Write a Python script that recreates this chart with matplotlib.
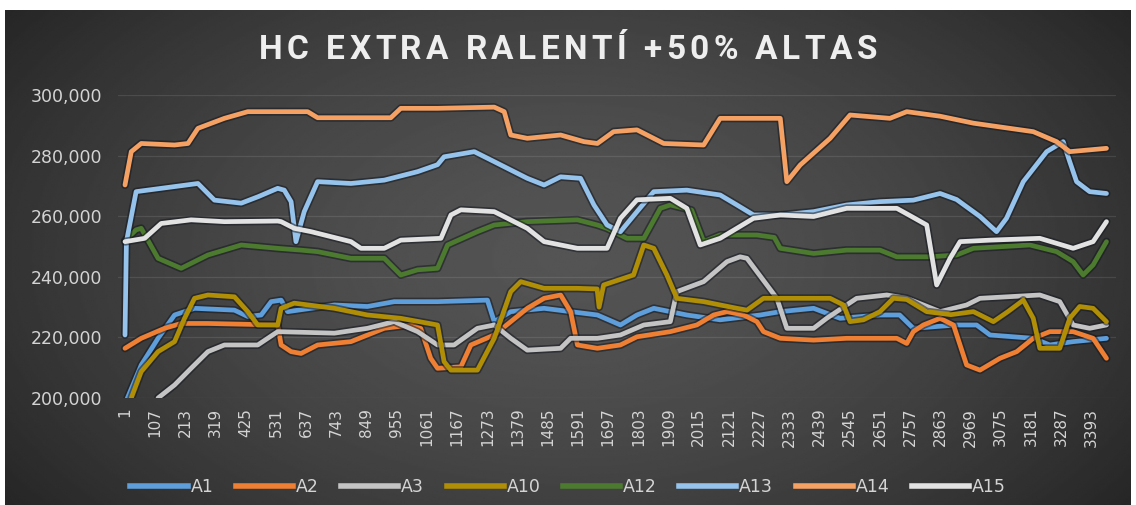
import numpy as np
import matplotlib
matplotlib.use("Agg")
import matplotlib.pyplot as plt
import matplotlib.patheffects as pe
from matplotlib.lines import Line2D
from matplotlib.ticker import FuncFormatter
from matplotlib.font_manager import FontProperties

# ---- data: (sample index, value in thousands) ----
A1 = [(5, 199), (58, 210.9), (117, 219.7), (175, 227.4), (245, 229.6), (385, 229), (432, 226.9),
      (479, 227.4), (514, 231.8), (549, 232.3), (572, 228.5), (736, 230.7), (852, 230.2), (946, 231.8),
      (1098, 231.8), (1273, 232.3), (1297, 225.2), (1355, 228.5), (1472, 229.6), (1565, 228.5),
      (1659, 227.4), (1740, 224.1), (1798, 227.4), (1857, 229.6), (1973, 227.4), (2090, 225.8),
      (2231, 227.4), (2301, 228.5), (2418, 229.6), (2511, 226.3), (2651, 227.4), (2720, 227.4),
      (2768, 223), (2920, 224.1), (2990, 224.1), (3037, 220.8), (3189, 219.7), (3247, 217.5),
      (3329, 218.6), (3446, 219.7)]

A2 = [(1, 216.4), (58, 219.7), (140, 223), (198, 224.6), (292, 224.6), (537, 224.1), (549, 217.5),
      (584, 215.3), (619, 214.7), (677, 217.5), (794, 218.6), (911, 223), (1004, 224.1), (1039, 223),
      (1074, 213.1), (1098, 209.8), (1180, 210.3), (1215, 217.5), (1297, 220.8), (1355, 225.2),
      (1413, 229.6), (1472, 232.9), (1530, 234), (1565, 228.5), (1589, 217.5), (1659, 216.4),
      (1740, 217.5), (1798, 220.2), (1915, 221.9), (2008, 224.1), (2067, 227.4), (2114, 228.5),
      (2172, 227.4), (2219, 225.2), (2242, 221.9), (2301, 219.7), (2418, 219.1), (2534, 219.7),
      (2710, 219.7), (2745, 218), (2768, 221.9), (2803, 224.1), (2862, 226.3), (2909, 224.1),
      (2955, 210.9), (3002, 209.2), (3072, 213.1), (3131, 215.3), (3189, 219.7), (3247, 221.9),
      (3329, 221.9), (3399, 219.7), (3446, 213.1)]

A3 = [(117, 200), (175, 204.3), (233, 209.8), (292, 215.3), (350, 217.5), (467, 217.5), (502, 219.7),
      (537, 221.9), (736, 221.4), (852, 223), (946, 225.2), (1028, 221.9), (1098, 217.5), (1156, 217.5),
      (1238, 223), (1297, 224.1), (1355, 219.7), (1413, 215.8), (1530, 216.4), (1565, 219.7),
      (1659, 219.7), (1740, 220.8), (1822, 224.1), (1915, 225.2), (1938, 235.1), (2032, 238.4),
      (2114, 245), (2160, 246.6), (2184, 246.1), (2254, 237.3), (2289, 232.9), (2324, 223),
      (2418, 223), (2464, 226.3), (2569, 232.9), (2675, 234), (2745, 232.9), (2862, 228.5),
      (2955, 230.7), (3002, 232.9), (3212, 234), (3282, 231.8), (3329, 224.1), (3387, 223),
      (3446, 224.1)]

A10 = [(23, 200), (58, 208.7), (117, 215.3), (175, 218.6), (210, 226.3), (245, 232.9), (292, 234),
       (385, 233.4), (432, 228.5), (467, 224.1), (537, 224.1), (549, 229.6), (595, 231.3), (736, 229.6),
       (852, 227.4), (969, 226.3), (1098, 224.1), (1121, 212), (1145, 209.2), (1238, 209.2),
       (1297, 219.7), (1355, 235.1), (1390, 238.4), (1472, 236.2), (1589, 236.2), (1658, 236),
       (1665, 230), (1681, 237.3), (1786, 240.6), (1822, 250.5), (1857, 249.4), (1903, 240.6),
       (1938, 232.9), (2032, 231.8), (2149, 229.6), (2184, 229), (2242, 232.9), (2476, 232.9),
       (2523, 230.7), (2546, 225.2), (2593, 225.8), (2651, 228.5), (2698, 232.9), (2745, 232.5),
       (2815, 228.5), (2900, 227.5), (2979, 228.5), (3049, 225.2), (3100, 228.5), (3154, 232.3),
       (3189, 226.3), (3212, 216.4), (3282, 216.4), (3317, 226.3), (3352, 230.2), (3399, 229.6),
       (3446, 225.2)]

A12 = [(1, 252), (40, 255.5), (58, 256), (117, 246.1), (198, 242.8), (292, 247.2), (409, 250.5),
       (537, 249.4), (619, 248.8), (677, 248.3), (794, 246.1), (911, 246.1), (969, 240.6), (1028, 242.3),
       (1098, 242.8), (1133, 250.5), (1238, 254.9), (1297, 257.1), (1413, 258.2), (1589, 258.8),
       (1659, 257.1), (1693, 256), (1763, 252.7), (1822, 252.7), (1880, 262.6), (1915, 263.7),
       (1990, 262), (2032, 251.6), (2090, 253.8), (2219, 253.8), (2280, 253), (2301, 249.4),
       (2418, 247.7), (2534, 248.8), (2651, 248.8), (2710, 246.6), (2827, 246.6), (2920, 247.2),
       (2979, 249.4), (3177, 250.5), (3271, 248.3), (3329, 245), (3364, 240.6), (3399, 243.9),
       (3446, 251.6)]

A13 = [(1, 220.8), (6, 251.6), (40, 268.1), (257, 270.8), (315, 265.3), (409, 264.3), (470, 266.5),
       (537, 269.2), (560, 268.6), (584, 264.8), (601, 251.6), (630, 261.5), (677, 271.4), (794, 270.8),
       (911, 271.9), (1028, 274.7), (1098, 277), (1121, 279.6), (1227, 281.3), (1297, 278),
       (1413, 272.5), (1472, 270.3), (1530, 273), (1600, 272.5), (1647, 263.7), (1693, 257.1),
       (1740, 254.9), (1798, 261.5), (1857, 268.1), (1973, 268.6), (2090, 267), (2149, 263.7),
       (2207, 260.4), (2301, 260.4), (2418, 261.5), (2534, 263.7), (2651, 264.8), (2768, 265.3),
       (2862, 267.5), (2920, 265.5), (3002, 259.9), (3060, 254.9), (3095, 259.3), (3154, 271.4),
       (3236, 281.3), (3294, 284.6), (3317, 278), (3341, 271.4), (3387, 268.1), (3446, 267.5)]

A14 = [(1, 270.3), (23, 281.3), (58, 284), (175, 283.5), (222, 284), (257, 289), (350, 292.3),
       (432, 294.5), (537, 294.5), (642, 294.5), (677, 292.5), (934, 292.5), (969, 295.6),
       (1098, 295.6), (1297, 296), (1332, 294.5), (1355, 286.8), (1413, 285.7), (1530, 286.8),
       (1612, 284.6), (1659, 284), (1716, 287.9), (1798, 288.5), (1892, 284), (2032, 283.5),
       (2090, 292.3), (2219, 292.3), (2301, 292.3), (2324, 271.4), (2371, 276.9), (2476, 285.7),
       (2546, 293.4), (2686, 292.3), (2745, 294.5), (2862, 293), (2979, 290.7), (3189, 287.9),
       (3271, 284.6), (3317, 281.3), (3446, 282.4)]

A15 = [(1, 251.6), (70, 252.7), (128, 257.6), (233, 258.8), (350, 258.2), (537, 258.4), (549, 258.2),
       (595, 256), (654, 254.9), (794, 251.6), (829, 249.4), (911, 249.4), (969, 252.1), (1110, 252.7),
       (1145, 260.4), (1180, 262.1), (1297, 261.5), (1413, 256), (1472, 251.6), (1589, 249.4),
       (1693, 249.4), (1740, 259.3), (1798, 265.4), (1915, 265.9), (1973, 262.6), (2020, 250.5),
       (2090, 252.7), (2207, 259.3), (2301, 260.4), (2418, 259.9), (2534, 262.6), (2710, 262.6),
       (2760, 260), (2815, 257.1), (2850, 237.3), (2897, 246.1), (2932, 251.6), (3037, 252.1),
       (3212, 252.7), (3329, 249.4), (3399, 251.6), (3446, 258.2)]

series_names = ["A1", "A2", "A3", "A10", "A12", "A13", "A14", "A15"]
series_data = [A1, A2, A3, A10, A12, A13, A14, A15]
series_colors = ["#5E9EDB", "#EE7F33", "#C4C4C4", "#B08E05", "#4C7A2E", "#95C3EC", "#F5A164", "#E2E2E2"]

x_ticks = list(range(1, 3394, 106))
y_ticks = [200000, 220000, 240000, 260000, 280000, 300000]
title = "HC EXTRA RALENTÍ +50% ALTAS"

# ---- figure ----
W, H = 1136, 505
fig = plt.figure(figsize=(W / 100, H / 100), dpi=100, facecolor="white")

# dark radial-gradient panel
bg = fig.add_axes([5 / W, 0, 1 - 10 / W, 495 / H])
gy, gx = np.mgrid[0:1:300j, 0:1:600j]
r = np.sqrt(((gx - 0.5) / 0.62) ** 2 + ((gy - 0.5) / 0.85) ** 2)
shade = 84 - 46 * np.clip(r, 0, 1) ** 1.6
bg.imshow(shade, cmap="gray", vmin=0, vmax=255, aspect="auto", extent=(0, 1, 0, 1),
          interpolation="bilinear")
bg.set_axis_off()

# plot area
px_left, px_right = 118, 1116
per_px = 3.51
ax = fig.add_axes([px_left / W, (H - 398) / H, (px_right - px_left) / W, (398 - 95) / H])
ax.set_facecolor("none")
ax.set_xlim(1 - (125 - px_left) * per_px, 1 + (px_right - 125) * per_px)
ax.set_ylim(200000, 300000)

for name, pts, col in zip(series_names, series_data, series_colors):
    xs = [p[0] for p in pts]
    ys = [p[1] * 1000 for p in pts]
    ax.plot(xs, ys, color=col, lw=3.4, solid_joinstyle="round", solid_capstyle="round",
            path_effects=[pe.Stroke(linewidth=5.8, foreground="#15181f", alpha=0.55), pe.Normal()])

ax.set_yticks(y_ticks)
ax.yaxis.set_major_formatter(FuncFormatter(lambda v, _: f"{v:,.0f}"))
ax.set_xticks(x_ticks)
ax.set_xticklabels([str(t) for t in x_ticks], rotation=90)
ax.tick_params(axis="y", length=0, pad=11.5, labelsize=12.5, labelcolor="#d4d4d4")
ax.tick_params(axis="x", length=0, pad=7, labelsize=11, labelcolor="#d4d4d4")
ax.grid(axis="y", color="white", alpha=0.10, lw=0.9)
ax.grid(axis="x", visible=False)
for s in ax.spines.values():
    s.set_visible(False)

# letter-spaced title
renderer = fig.canvas.get_renderer()
title_font = FontProperties(family=["Roboto", "DejaVu Sans"], weight="bold", size=24)
title_width = 618  # pixels


def advance(ch):
    w2 = renderer.get_text_width_height_descent("H" + ch + "H", title_font, ismath=False)[0]
    w0 = renderer.get_text_width_height_descent("HH", title_font, ismath=False)[0]
    return w2 - w0


advances = [advance(ch) for ch in title]
tracking = (title_width - sum(advances)) / (len(title) - 1)
x_px = W / 2 - title_width / 2
for ch, adv in zip(title, advances):
    fig.text(x_px / W, (H - 50) / H, ch, ha="left", va="center", fontproperties=title_font,
             color="#eeeeee")
    x_px += adv + tracking

handles = [Line2D([], [], color=c, lw=4) for c in series_colors]
fig.legend(handles, series_names, loc="center", bbox_to_anchor=(0.5, (H - 487) / H), ncol=8,
           frameon=False, fontsize=12.5, handlelength=3.3, handletextpad=0.15,
           columnspacing=1.3, labelcolor="#d4d4d4")

fig.savefig("out.png", dpi=100, facecolor="white")
